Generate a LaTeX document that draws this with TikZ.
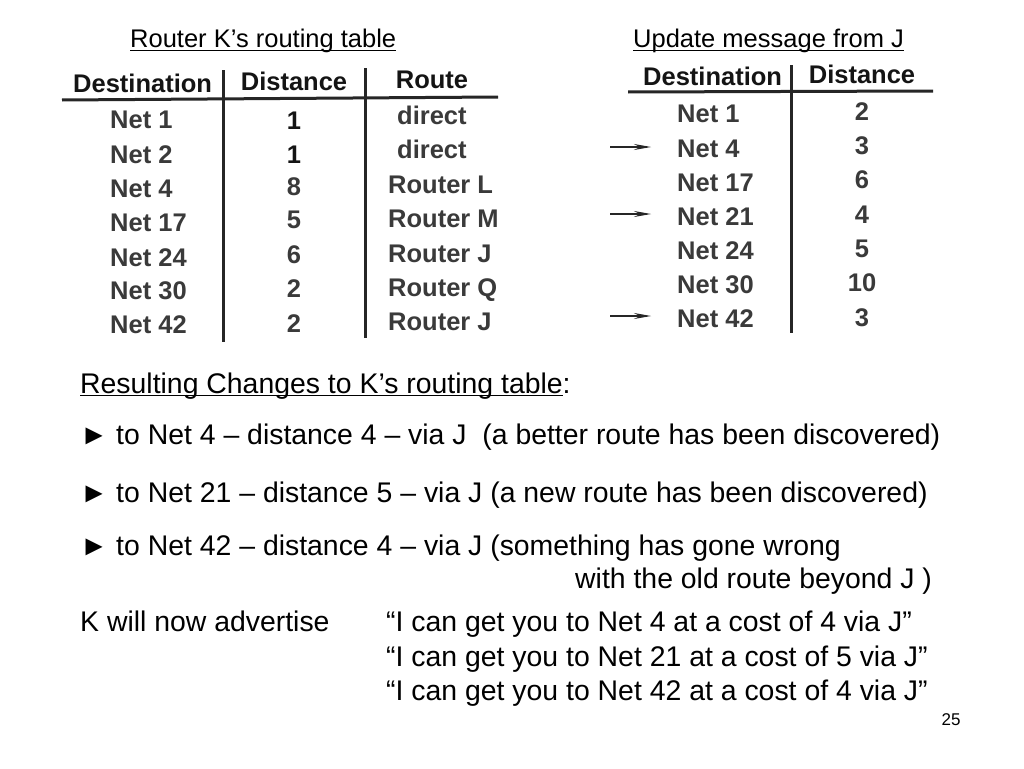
\documentclass[tikz,border=0pt]{standalone}
\usepackage{fontspec}
\setmainfont{Liberation Sans}
\usetikzlibrary{arrows.meta}
\newcommand\ulbase[1]{\setbox0\hbox{#1}\rlap{\rule[-0.12em]{\wd0}{0.06em}}\box0}
\definecolor{scan}{HTML}{2E2E2E}
\definecolor{scanlight}{HTML}{3A3A3A}
\tikzset{
  tab/.style={font=\fontsize{25.5}{30}\selectfont\bfseries, inner sep=0pt, text=scanlight},
  tabh/.style={font=\fontsize{25.5}{30}\selectfont\bfseries, inner sep=0pt, text=black!92},
  ttl/.style={font=\fontsize{25.5}{30}\selectfont, inner sep=0pt},
  body/.style={font=\fontsize{28.4}{33}\selectfont, inner sep=0pt},
  tabrule/.style={line width=3pt, black!85},
  marker/.style={line width=1.1pt, black!85, -{Stealth[length=17pt,width=6pt,inset=6pt]}}
}
\begin{document}
\begin{tikzpicture}[x=1pt,y=-1pt]
\useasboundingbox[fill=white] (0,0) rectangle (1024,768);
% titles
\node[ttl, anchor=base west] (t1) at (130,48) {\ulbase{Router K’s routing table}};
\node[ttl, anchor=base west] (t2) at (633,48) {\ulbase{Update message from J}};
% ---- left table
\node[tabh, anchor=base west] (lh1) at (73,92) {Destination};
\node[tabh, anchor=base] (lh2) at (294,90) {Distance};
\node[tabh, anchor=base] (lh3) at (432,88) {Route};
\draw[tabrule] (62,100) -- (498,97);
\draw[tabrule] (223,70) -- (223,342);
\draw[tabrule] (365,68) -- (365,338);
\node[tab, anchor=base west] (ld1) at (110,128) {Net 1};
\node[tab, anchor=base west] (ld2) at (110,163) {Net 2};
\node[tab, anchor=base west] (ld3) at (110,197) {Net 4};
\node[tab, anchor=base west] (ld4) at (110,231) {Net 17};
\node[tab, anchor=base west] (ld5) at (110,266) {Net 24};
\node[tab, anchor=base west] (ld6) at (110,299) {Net 30};
\node[tab, anchor=base west] (ld7) at (110,333) {Net 42};
\node[tabh, anchor=base] (lv1) at (294,129) {1};
\node[tabh, anchor=base] (lv2) at (294,163) {1};
\node[tab, anchor=base] (lv3) at (294,195) {8};
\node[tab, anchor=base] (lv4) at (294,228) {5};
\node[tab, anchor=base] (lv5) at (294,263) {6};
\node[tab, anchor=base] (lv6) at (294,297) {2};
\node[tab, anchor=base] (lv7) at (294,332) {2};
\node[tab, anchor=base west] (lr1) at (397,124) {direct};
\node[tab, anchor=base west] (lr2) at (397,158) {direct};
\node[tab, anchor=base west] (lr3) at (388,193) {Router L};
\node[tab, anchor=base west] (lr4) at (388,227) {Router M};
\node[tab, anchor=base west] (lr5) at (388,262) {Router J};
\node[tab, anchor=base west] (lr6) at (388,296) {Router Q};
\node[tab, anchor=base west] (lr7) at (388,330) {Router J};
% ---- right table
\node[tabh, anchor=base west] (rh1) at (643,85) {Destination};
\node[tabh, anchor=base] (rh2) at (862,83) {Distance};
\draw[tabrule] (628,92) -- (933,91);
\draw[tabrule] (791,65) -- (791,333);
\node[tab, anchor=base west] (rd1) at (677,122) {Net 1};
\node[tab, anchor=base west] (rd2) at (677,157) {Net 4};
\node[tab, anchor=base west] (rd3) at (677,191) {Net 17};
\node[tab, anchor=base west] (rd4) at (677,225) {Net 21};
\node[tab, anchor=base west] (rd5) at (677,259) {Net 24};
\node[tab, anchor=base west] (rd6) at (677,293) {Net 30};
\node[tab, anchor=base west] (rd7) at (677,327) {Net 42};
\node[tab, anchor=base] (rv1) at (862,120) {2};
\node[tab, anchor=base] (rv2) at (862,154) {3};
\node[tab, anchor=base] (rv3) at (862,188) {6};
\node[tab, anchor=base] (rv4) at (862,223) {4};
\node[tab, anchor=base] (rv5) at (862,257) {5};
\node[tab, anchor=base] (rv6) at (862,291) {10};
\node[tab, anchor=base] (rv7) at (862,326) {3};
% arrows
\coordinate (a1s) at (610,147); \coordinate (a1e) at (651,147);
\coordinate (a2s) at (610,214); \coordinate (a2e) at (651,214);
\coordinate (a3s) at (610,316); \coordinate (a3e) at (651,316);
\draw[marker] (a1s) -- (a1e);
\draw[marker] (a2s) -- (a2e);
\draw[marker] (a3s) -- (a3e);
% ---- lower text
\node[body, anchor=base west] (res) at (80,393) {\ulbase{Resulting Changes to K’s routing table}:};
\node[body, anchor=base west] (b1) at (80,444) {► to Net 4 – distance 4 – via J\ \ (a better route has been discovered)};
\node[body, anchor=base west] (b2) at (80,502) {► to Net 21 – distance 5 – via J (a new route has been discovered)};
\node[body, anchor=base west] (b3) at (80,555) {► to Net 42 – distance 4 – via J (something has gone wrong};
\node[body, anchor=base west] (b3b) at (575,588) {with the old route beyond J )};
\node[body, anchor=base west] (adv) at (80,631) {K will now advertise};
\node[body, anchor=base west] (q1) at (386,631) {“I can get you to Net 4 at a cost of 4 via J”};
\node[body, anchor=base west] (q2) at (386,666) {“I can get you to Net 21 at a cost of 5 via J”};
\node[body, anchor=base west] (q3) at (386,700) {“I can get you to Net 42 at a cost of 4 via J”};
\node[font=\fontsize{17}{20}\selectfont, inner sep=0pt, anchor=base] (pg) at (951,725) {25};
\end{tikzpicture}
\end{document}
